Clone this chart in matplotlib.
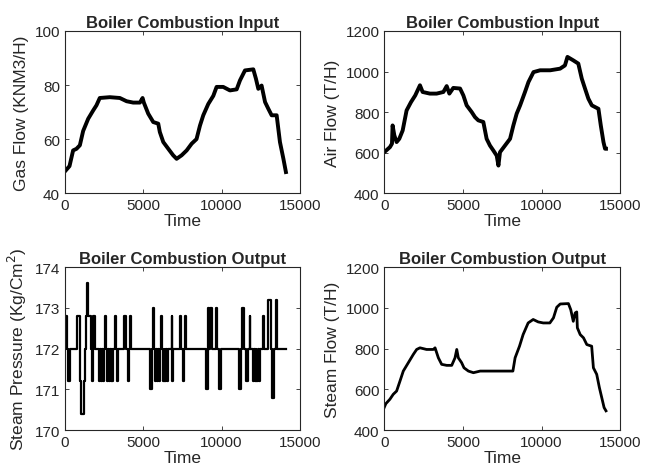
import numpy as np
import matplotlib.pyplot as plt

# gas flow (KNM3/H)
gas_time = [0, 150, 300, 530, 745, 960, 1170, 1490, 1810, 2020, 2230, 2870, 3510, 3940,
            4360, 4790, 4960, 5040, 5320, 5640, 5960, 6060, 6280, 6600, 6910, 7130, 7450,
            7770, 8090, 8400, 8620, 8830, 9150, 9470, 9680, 10100, 10530, 10960, 11170,
            11490, 12020, 12190, 12340, 12550, 12770, 12980, 13190, 13510, 13720, 13940, 14100]
gas_flow = [48, 49, 50, 55.8, 56.4, 57.7, 63, 67.5, 70.6, 72.5, 75.2, 75.5, 75.2, 74,
            73.5, 73.5, 75.2, 73.5, 69.4, 66.3, 65.7, 62.6, 58.9, 56.4, 54, 52.7, 54,
            55.8, 58.3, 60, 65, 68.8, 73, 76, 79.3, 79.3, 78, 78.4, 81.7,
            85.4, 85.8, 82.3, 78.6, 79.8, 73.7, 71.2, 68.8, 68.8, 58.9, 52.7, 47.8]

# air flow (T/H), top-right panel
air_time = [0, 360, 490, 530, 640, 785, 955, 1170, 1420, 1700, 1970, 2270, 2440, 2900,
            3330, 3760, 3970, 4140, 4390, 4820, 5030, 5240, 5560, 5770, 5980, 6300, 6510,
            6720, 6940, 7150, 7260, 7360, 7680, 8000, 8210, 8420, 8640, 8950, 9170, 9490,
            9910, 10550, 11180, 11490, 11650, 12020, 12340, 12560, 12770, 12980, 13200,
            13620, 13770, 13940, 14040, 14100]
air_flow = [602, 627, 644, 734, 685, 652, 668, 709, 808, 849, 882, 932, 899, 891,
            891, 899, 928, 891, 919, 916, 882, 833, 800, 775, 759, 751, 668,
            635, 610, 585, 536, 602, 635, 668, 734, 792, 833, 899, 948, 997,
            1006, 1006, 1014, 1030, 1072, 1055, 1039, 965, 915, 866, 833,
            816, 734, 652, 619, 619]

# steam pressure (Kg/Cm2), bottom-left panel, step changes
p_time = [0, 120, 230, 300, 760, 960, 980, 1020, 1210, 1300, 1340, 1420, 1480, 1700,
          1740, 1790, 1830, 1950, 2200, 2250, 2300, 2380, 2420, 2480, 2550, 2640,
          2700, 2780, 2820, 2900, 2940, 3020, 3040, 3100, 3230, 3290, 3320, 3380,
          3800, 3920, 4030, 4100, 4150, 4200, 5430, 5530, 5600, 5720,
          5750, 5830, 5870, 5950, 5980, 6040, 6150, 6200, 6280, 6360, 6400, 6480,
          6520, 6600, 6810, 6850, 6860, 6900, 7320, 7380, 7540, 7600, 7660, 7720,
          9000, 9100, 9130, 9200, 9250, 9380, 9640, 9720, 9840, 9950,
          11130, 11230, 11330, 11420, 11560, 11680, 11780, 11840,
          11980, 12060, 12100, 12180, 12220, 12300, 12360, 12460, 12640, 12700,
          12960, 13140, 13240, 13320, 13460, 13520, 14100]
p_value = [172.8, 172, 171.2, 172, 172.8, 172, 171.2, 170.4, 171.2, 172, 172.8, 173.6, 172.8, 172,
           171.2, 172, 172.8, 172, 171.2, 172, 171.2, 172, 171.2, 172, 172.8, 172,
           171.2, 172, 171.2, 172, 171.2, 172, 171.2, 172, 172.8, 172, 171.2, 172,
           172.8, 172, 171.2, 172, 172.8, 172, 171, 172, 173, 172,
           171.2, 172, 171.2, 172, 171.2, 172, 172.8, 172, 171.2, 172, 171.2, 172,
           171.2, 172, 172.8, 172, 171.2, 172, 172.8, 172, 171.2, 172, 172.8, 172,
           171, 172, 173, 172, 173, 172, 173, 172, 171, 172,
           171, 172, 173, 172, 171.2, 172, 172.8, 172,
           171.2, 172, 171.2, 172, 171.2, 172, 171.2, 172, 172.8, 172,
           173.2, 172, 170.8, 172, 173.2, 172, 172]

# steam flow (T/H), bottom-right panel
sf_time = [0, 100, 360, 570, 785, 1000, 1210, 1530, 1850, 2060, 2270, 2690, 3120, 3230,
           3440, 3650, 3970, 4290, 4500, 4610, 4710, 4920, 5070, 5350, 5670, 6100, 6950,
           8010, 8180, 8320, 8600, 8830, 9150, 9470, 9790, 10110, 10530, 10760, 10970,
           11190, 11710, 11860, 12020, 12140, 12240, 12280, 12460, 12670, 12880, 13190,
           13300, 13510, 13680, 13830, 13980, 14100]
sf_flow = [512, 530, 552, 576, 592, 641, 690, 731, 772, 796, 804, 796, 796, 804,
           755, 723, 718, 718, 755, 796, 755, 731, 706, 690, 682, 690, 690,
           690, 690, 755, 812, 869, 926, 943, 931, 926, 926, 951, 1003,
           1019, 1021, 991, 934, 975, 980, 902, 869, 853, 820, 812,
           706, 674, 609, 560, 511, 495]

plt.rcParams['font.family'] = ['Liberation Sans', 'DejaVu Sans']
txt = '#262626'
plt.rcParams['text.color'] = txt
plt.rcParams['axes.labelcolor'] = txt
plt.rcParams['xtick.color'] = txt
plt.rcParams['ytick.color'] = txt
plt.rcParams['axes.edgecolor'] = txt

fig = plt.figure(figsize=(6.48, 4.77), dpi=100)
pos = [[0.100, 0.593, 0.363, 0.340], [0.593, 0.593, 0.364, 0.340],
       [0.100, 0.096, 0.363, 0.342], [0.593, 0.096, 0.364, 0.342]]
axs = [fig.add_axes(p) for p in pos]

tsize = 12

axs[0].plot(gas_time, gas_flow, color='black', lw=2.8)
axs[0].set_ylim(40, 100)
axs[0].set_yticks([40, 60, 80, 100])
axs[0].set_ylabel('Gas Flow (KNM3/H)')
axs[0].set_title('Boiler Combustion Input', fontweight='bold', fontsize=tsize, pad=3)

axs[1].plot(air_time, air_flow, color='black', lw=2.8)
axs[1].set_ylim(400, 1200)
axs[1].set_yticks([400, 600, 800, 1000, 1200])
axs[1].set_ylabel('Air Flow (T/H)')
axs[1].set_title('Boiler Combustion Input', fontweight='bold', fontsize=tsize, pad=3)

axs[2].plot(p_time, p_value, color='black', lw=1.6, drawstyle='steps-post')
axs[2].set_ylim(170, 174)
axs[2].set_yticks([170, 171, 172, 173, 174])
axs[2].set_ylabel('Steam Pressure (Kg/Cm$^2$)')
axs[2].set_title('Boiler Combustion Output', fontweight='bold', fontsize=tsize, pad=3)

axs[3].plot(sf_time, sf_flow, color='black', lw=2)
axs[3].set_ylim(400, 1200)
axs[3].set_yticks([400, 600, 800, 1000, 1200])
axs[3].set_ylabel('Steam Flow (T/H)')
axs[3].set_title('Boiler Combustion Output', fontweight='bold', fontsize=tsize, pad=3)

for ax in axs:
    ax.set_xlim(0, 15000)
    ax.set_xticks([0, 5000, 10000, 15000])
    ax.set_xlabel('Time', fontsize=12.5, labelpad=1)
    ax.yaxis.label.set_size(12.5)
    ax.tick_params(direction='in', length=3, labelsize=11, top=True, right=True, width=0.6)
    for s in ax.spines.values():
        s.set_linewidth(0.8)

fig.savefig('out.png', dpi=100)
